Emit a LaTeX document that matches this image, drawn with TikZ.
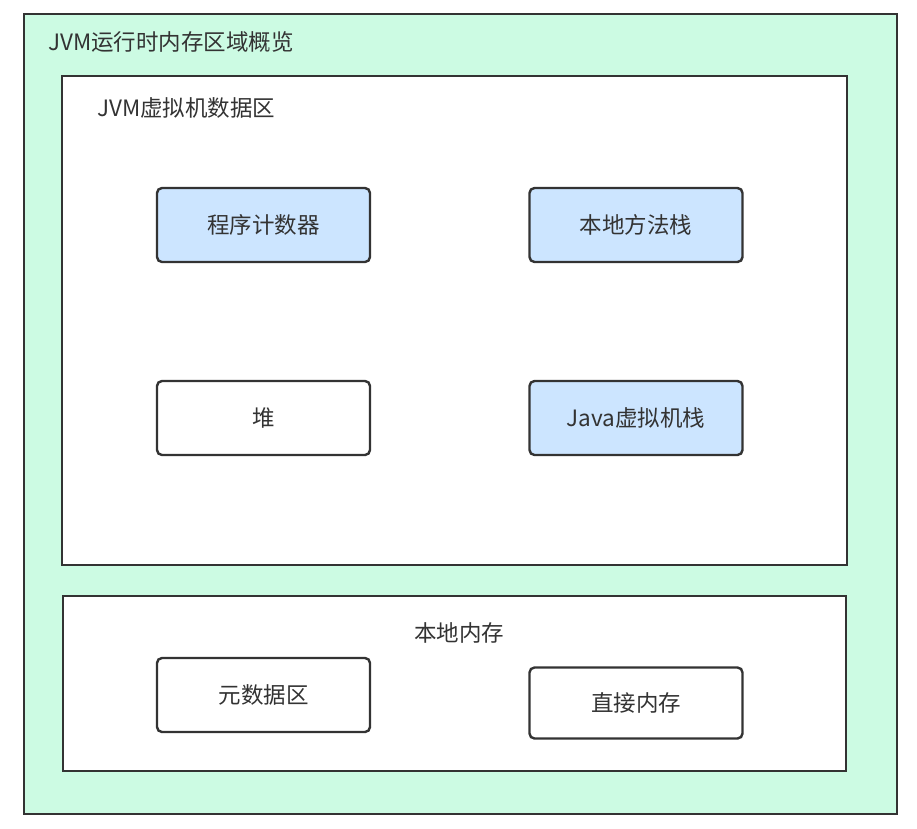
\documentclass[tikz,border=0pt]{standalone}
\usepackage{fontspec}
\setmainfont{Noto Sans CJK SC}
\usepackage{tikz}
\usepackage{xcolor}

\definecolor{mint}{HTML}{CCFBE3}
\definecolor{paleblue}{HTML}{CCE5FF}
\definecolor{ink}{HTML}{333333}

\begin{document}
\begin{tikzpicture}[x=1pt, y=-1pt,
    area/.style={draw=ink, line width=2.4pt, rectangle, inner sep=0pt},
    part/.style={draw=ink, line width=2.4pt, rounded corners=5pt, minimum width=213pt,
                 minimum height=74pt, text=ink, font=\fontsize{22.5}{22.5}\selectfont},
    tag/.style={text=ink, inner sep=0pt, font=\fontsize{22.5}{22.5}\selectfont}]
    \useasboundingbox (0,0) rectangle (917,828);
    % outer frames
    \node[area, fill=mint, minimum width=873pt, minimum height=800pt] (runtime) at (460.5,414) {};
    \node[area, fill=white, minimum width=785pt, minimum height=489pt] (dataarea) at (454.5,320.5) {};
    \node[area, fill=white, minimum width=783pt, minimum height=175pt] (native) at (454.5,683.5) {};
    \node[tag, anchor=west] (runtimelab) at (48,42) {JVM运行时内存区域概览};
    \node[tag, anchor=west] (datalab) at (97,108) {JVM虚拟机数据区};
    \node[tag] (nativelab) at (459,633) {本地内存};
    % the parts
    \foreach \nm/\x/\y/\fc/\lab in {pc/263.5/225/paleblue/程序计数器,
                                    nstack/636/225/paleblue/本地方法栈,
                                    heap/263.5/418/white/堆,
                                    jstack/636/418/paleblue/Java虚拟机栈,
                                    meta/263.5/695/white/元数据区} {
        \node[part, fill=\fc] (\nm) at (\x,\y) {\lab};
    }
    \node[part, fill=white, minimum height=71pt] (direct) at (636,703) {直接内存};
\end{tikzpicture}
\end{document}
